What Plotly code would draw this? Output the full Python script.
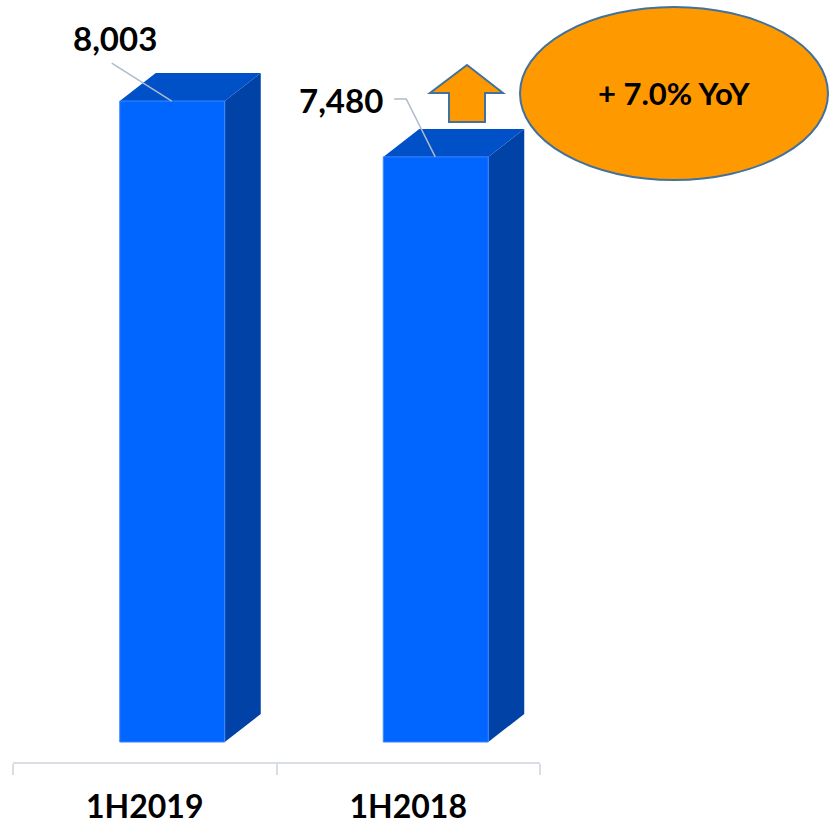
import plotly.graph_objects as go

# ---------------- data ----------------
categories = ["1H2019", "1H2018"]
values = [8003, 7480]
value_labels = ["8,003", "7,480"]
yoy_text = "+ 7.0% YoY"

# ---------------- layout constants ----------------
W, H = 831, 830
L, R, T, B = 13, 291, 20, 68
PLOT_W = W - L - R
PLOT_H = H - T - B
X_RANGE = [0, 2]
Y_RANGE = [1813, 8762]
BASE = 2000            # floor of the 3-D columns (value axis minimum)
FONT = "Lato"

FRONT = "#0066FF"
TOP = "#0050C8"
SIDE = "#0042A6"
EDGE = "#3F86FF"
ORANGE = "#FF9900"
OUTLINE = "#41719C"
AXIS = "#D9DEE5"
LEADER = "#AEBBCB"

XU = (X_RANGE[1] - X_RANGE[0]) / PLOT_W   # data units per pixel (x)
YU = (Y_RANGE[1] - Y_RANGE[0]) / PLOT_H   # data units per pixel (y)

FRONT_OFF = -25 * XU        # front face left edge relative to category centre
FRONT_W = 105 * XU          # front face width
DEPTH_X = 36 * XU
DEPTH_Y = 28 * YU


def paper_x(px):
    return (px - L) / PLOT_W


def paper_y(py):
    return (H - B - py) / PLOT_H


fig = go.Figure()

centers = [i + 0.5 for i in range(len(categories))]
for c, v in zip(centers, values):
    x0 = c + FRONT_OFF
    x1 = x0 + FRONT_W
    # side face
    fig.add_trace(go.Scatter(
        x=[x1, x1, x1 + DEPTH_X, x1 + DEPTH_X, x1],
        y=[BASE, v, v + DEPTH_Y, BASE + DEPTH_Y, BASE],
        fill="toself", fillcolor=SIDE, mode="lines",
        line=dict(width=0), hoverinfo="skip"))
    # top face
    fig.add_trace(go.Scatter(
        x=[x0, x0 + DEPTH_X, x1 + DEPTH_X, x1, x0],
        y=[v, v + DEPTH_Y, v + DEPTH_Y, v, v],
        fill="toself", fillcolor=TOP, mode="lines",
        line=dict(width=0), hoverinfo="skip"))
    # front face
    fig.add_trace(go.Scatter(
        x=[x0, x0, x1, x1, x0],
        y=[BASE, v, v, BASE, BASE],
        fill="toself", fillcolor=FRONT, mode="lines",
        line=dict(width=1, color=EDGE), hoverinfo="skip"))

# value labels with leader lines
label_shift = [(-5, 63), (-42, 57)]
leader_pts = [
    [(-60, -38)],
    [(-41, -58), (-29, -58)],
]
annotations = []
shapes = []
for c, v, txt, (xs, ys), pts in zip(centers, values, value_labels, label_shift, leader_pts):
    x0 = c + FRONT_OFF
    annotations.append(dict(
        x=x0, y=v, xref="x", yref="y", text=txt,
        showarrow=False, xshift=xs, yshift=ys, xanchor="center", yanchor="middle",
        font=dict(family=FONT, size=33, color="black", weight="bold")))
    ex, ey = x0 + 52 * XU, v
    coords = [(ex + dx * XU, ey - dy * YU) for dx, dy in pts] + [(ex, ey)]
    path = "M " + " L ".join(f"{a},{b}" for a, b in coords)
    shapes.append(dict(type="path", xref="x", yref="y", path=path,
                       line=dict(color=LEADER, width=1.5)))

# up arrow
arrow_px = [(467, 65), (503, 93), (485, 93), (485, 122), (449, 122), (449, 93), (430, 93)]
arrow_path = "M " + " L ".join(f"{paper_x(a)},{paper_y(b)}" for a, b in arrow_px) + " Z"
shapes.append(dict(type="path", xref="paper", yref="paper", path=arrow_path,
                   fillcolor=ORANGE, line=dict(color=OUTLINE, width=2)))

# ellipse
shapes.append(dict(type="circle", xref="paper", yref="paper",
                   x0=paper_x(520), x1=paper_x(828), y0=paper_y(180), y1=paper_y(7),
                   fillcolor=ORANGE, line=dict(color=OUTLINE, width=2)))
annotations.append(dict(
    x=paper_x(674), y=paper_y(93), xref="paper", yref="paper",
    text=yoy_text, showarrow=False,
    xanchor="center", yanchor="middle",
    font=dict(family=FONT, size=31, color="black", weight="bold")))

fig.update_layout(
    width=W, height=H,
    margin=dict(l=L, r=R, t=T, b=B, pad=0, autoexpand=False),
    paper_bgcolor="white", plot_bgcolor="white",
    showlegend=False,
    shapes=shapes, annotations=annotations,
    xaxis=dict(
        range=X_RANGE, showgrid=False, zeroline=False, automargin=False,
        tickmode="array", tickvals=centers, ticktext=categories,
        ticks="outside", ticklen=16, tickcolor="rgba(0,0,0,0)",
        tickfont=dict(family=FONT, size=32, color="black", weight="bold"),
        showline=True, linecolor=AXIS, linewidth=2,
        minor=dict(tickmode="array", tickvals=[0, 1, 2], ticks="outside",
                   ticklen=11, tickwidth=2, tickcolor=AXIS),
        fixedrange=True),
    yaxis=dict(range=Y_RANGE, visible=False, fixedrange=True),
)

fig.write_html("out.html")
